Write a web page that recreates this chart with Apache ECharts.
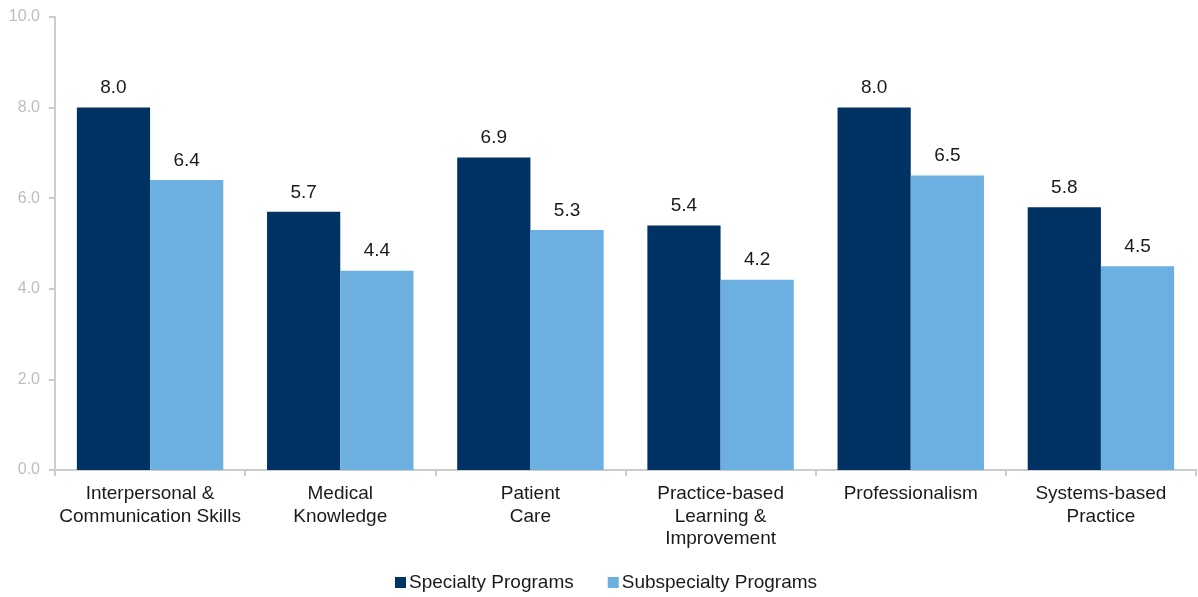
<!DOCTYPE html>
<html><head><meta charset="utf-8">
<script src="https://cdn.jsdelivr.net/npm/echarts@6/dist/echarts.min.js"></script>
<style>html,body{margin:0;padding:0;background:#fff}#c{width:1198px;height:597px}</style>
</head><body><div id="c"></div>
<script>
const categories = ["Interpersonal &\nCommunication Skills","Medical\nKnowledge","Patient\nCare","Practice-based\nLearning &\nImprovement","Professionalism","Systems-based\nPractice"];
const specialty = [8.0, 5.7, 6.9, 5.4, 8.0, 5.8];
const subspecialty = [6.4, 4.4, 5.3, 4.2, 6.5, 4.5];
const seriesNames = ["Specialty Programs","Subspecialty Programs"];
const chart = echarts.init(document.getElementById('c'), null, {renderer:'canvas'});
const font = "'Liberation Sans', Arial, sans-serif";
const lbl = {show:true, position:'top', distance:10, color:'#1a1a1a', fontSize:19, fontFamily:font, formatter:p=>p.value.toFixed(1)};
chart.setOption({
  animation:false,
  grid:{left:55, right:2, top:17, bottom:127, containLabel:false},
  legend:{bottom:0, left:390, itemWidth:11, itemHeight:11, itemGap:34, icon:'rect',
    textStyle:{fontSize:19, color:'#1a1a1a', fontFamily:font, padding:[0,0,0,-2]}},
  xAxis:{type:'category', data:categories,
    axisLine:{lineStyle:{color:'#cccccc', width:2}},
    axisTick:{show:true, length:6, lineStyle:{color:'#cccccc', width:2}},
    axisLabel:{interval:0, color:'#1a1a1a', fontSize:19, fontFamily:font, lineHeight:22.5, margin:13}},
  yAxis:{type:'value', min:0, max:10, interval:2,
    axisLine:{show:true, lineStyle:{color:'#cccccc', width:2}},
    axisTick:{show:true, length:6, lineStyle:{color:'#cccccc', width:2}},
    splitLine:{show:false},
    axisLabel:{color:'#bdbdbd', fontSize:16, fontFamily:font, margin:15, formatter:v=>v.toFixed(1)}},
  series:[
    {name:seriesNames[0], type:'bar', data:specialty, barGap:'0%', barCategoryGap:'23%', itemStyle:{color:'#003263'}, label:lbl},
    {name:seriesNames[1], type:'bar', data:subspecialty, itemStyle:{color:'#6cb0e1'}, label:lbl}
  ]
});
</script></body></html>
